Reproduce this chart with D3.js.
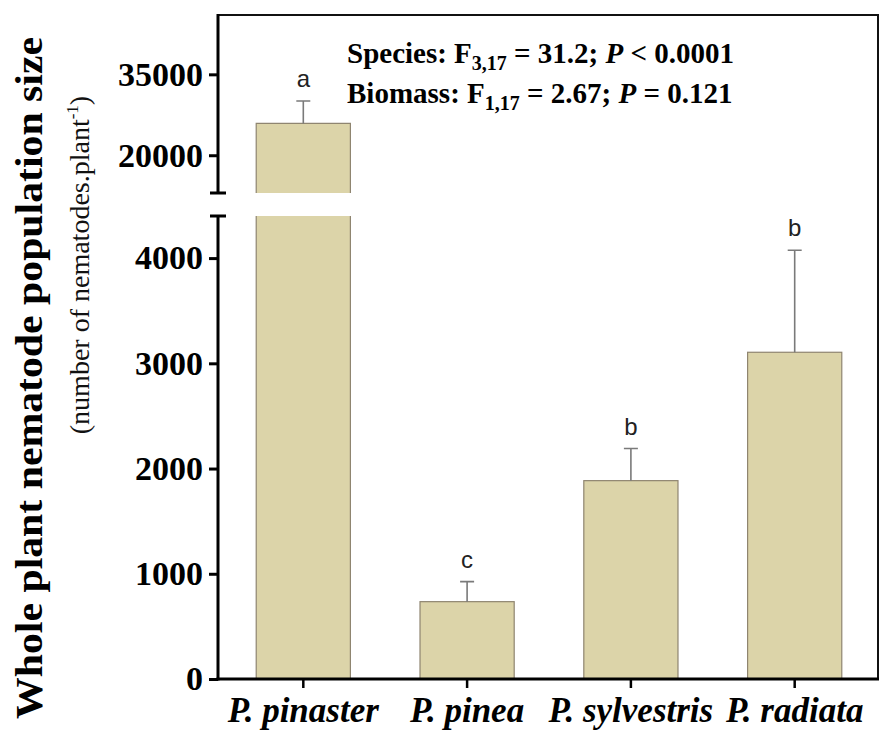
<!DOCTYPE html>
<html>
<head>
<meta charset="utf-8">
<script src="https://cdn.jsdelivr.net/npm/d3@7"></script>
<style>
  html, body { margin: 0; padding: 0; background: #fff; }
  svg { display: block; }
</style>
</head>
<body>
<svg id="chart" width="884" height="742"></svg>
<script>
// Pine species and mean nematode counts per plant (± SE)
const species = ["P. pinaster", "P. pinea", "P. sylvestris", "P. radiata"];
const means = [25900, 735, 1885, 3105];
const errors = [4150, 190, 305, 970];
const letters = ["a", "c", "b", "b"];

// Broken y axis: lower and upper segments
const lowerTicks = [0, 1000, 2000, 3000, 4000];
const upperTicks = [20000, 35000];
const lowerDomain = [0, 4400];
const upperDomain = [13000, 46000];

const svg = d3.select("#chart");
const serif = "'Liberation Serif', 'DejaVu Serif', serif";
const sans = "'Liberation Sans', Arial, sans-serif";

const left = 218, right = 878;
const plotTop = 15, baseY = 679;
const lowerTop = 216, upperBottom = 193;

const x = d3.scaleBand().domain(species).range([221, 877]).paddingInner(0.425).paddingOuter(0.215);
const yLow = d3.scaleLinear().domain(lowerDomain).range([baseY, lowerTop]);
const yUp = d3.scaleLinear().domain(upperDomain).range([upperBottom, plotTop]);

const barFill = "#dcd4a9", barStroke = "#8f8570";

// bars: values beyond the lower segment continue into the upper one
const data = species.map((s, i) => ({ s, m: means[i], e: errors[i], l: letters[i] }));
const yTop = v => v > lowerDomain[1] ? yUp(v) : yLow(v);

const bars = svg.append("g");
data.forEach(d => {
  const x0 = x(d.s), w = x.bandwidth();
  if (d.m > lowerDomain[1]) {
    bars.append("rect").attr("x", x0).attr("y", lowerTop).attr("width", w)
      .attr("height", baseY - lowerTop).attr("fill", barFill);
    bars.append("rect").attr("x", x0).attr("y", yUp(d.m)).attr("width", w)
      .attr("height", upperBottom - yUp(d.m)).attr("fill", barFill);
    bars.append("path")
      .attr("d", `M${x0},${baseY}V${lowerTop}M${x0 + w},${baseY}V${lowerTop}` +
                 `M${x0},${upperBottom}V${yUp(d.m)}H${x0 + w}V${upperBottom}`)
      .attr("fill", "none").attr("stroke", barStroke).attr("stroke-width", 1.2);
  } else {
    bars.append("rect").attr("x", x0).attr("y", yLow(d.m)).attr("width", w)
      .attr("height", baseY - yLow(d.m)).attr("fill", barFill)
      .attr("stroke", barStroke).attr("stroke-width", 1.2);
  }
  // upward error bar
  const cx = x0 + w / 2;
  const y1 = yTop(d.m), y2 = yTop(d.m + d.e);
  bars.append("path")
    .attr("d", `M${cx},${y1}V${y2}M${cx - 7},${y2}H${cx + 7}`)
    .attr("fill", "none").attr("stroke", "#7a7a7a").attr("stroke-width", 1.6);
  // significance letters
  svg.append("text").attr("x", cx).attr("y", y2 - 14)
    .attr("text-anchor", "middle").attr("font-family", sans).attr("font-size", 24)
    .attr("fill", "#222").text(d.l);
});

// frame around the plot
svg.append("path")
  .attr("d", `M${left},${plotTop}H${right}V${baseY}`)
  .attr("fill", "none").attr("stroke", "#111").attr("stroke-width", 2);

// y axes (two segments)
function styleAxis(g) {
  g.select(".domain").remove();
  g.selectAll(".tick line").attr("stroke", "#000").attr("stroke-width", 3);
  g.selectAll(".tick text").attr("font-family", serif).attr("font-weight", "bold")
    .attr("font-size", 34).attr("fill", "#000");
}
svg.append("g").attr("transform", `translate(${left},0)`)
  .call(d3.axisLeft(yLow).tickValues(lowerTicks).tickSize(9).tickPadding(6).tickFormat(d3.format("d")))
  .call(styleAxis);
svg.append("g").attr("transform", `translate(${left},0)`)
  .call(d3.axisLeft(yUp).tickValues(upperTicks).tickSize(9).tickPadding(6).tickFormat(d3.format("d")))
  .call(styleAxis);

svg.append("path")
  .attr("d", `M${left},${baseY + 1.5}V${lowerTop}M${left - 8},${lowerTop}H${left + 8}` +
             `M${left},${plotTop - 1}V${upperBottom}M${left - 8},${upperBottom}H${left + 8}`)
  .attr("fill", "none").attr("stroke", "#000").attr("stroke-width", 3);

// x axis
const xAxis = svg.append("g").attr("transform", `translate(0,${baseY})`)
  .call(d3.axisBottom(x).tickSize(9).tickPadding(9));
xAxis.select(".domain").attr("stroke", "#000").attr("stroke-width", 3)
  .attr("d", `M${left - 1.5},0H${right + 1}`);
xAxis.selectAll(".tick line").attr("stroke", "#000").attr("stroke-width", 2.5);
xAxis.selectAll(".tick text").attr("font-family", serif).attr("font-weight", "bold")
  .attr("font-style", "italic").attr("font-size", 35).attr("fill", "#000")
  .attr("dy", "0.71em");

// y axis titles
svg.append("text")
  .attr("transform", "translate(42,378) rotate(-90)")
  .attr("text-anchor", "middle").attr("font-family", serif).attr("font-weight", "bold")
  .attr("font-size", 38).attr("fill", "#000")
  .attr("textLength", 682).attr("lengthAdjust", "spacingAndGlyphs")
  .text("Whole plant nematode population size");
const sub = svg.append("text")
  .attr("transform", "translate(89,265) rotate(-90)")
  .attr("text-anchor", "middle")
  .attr("font-family", "'Times New Roman', 'Liberation Serif', Times, serif")
  .attr("font-size", 28).attr("fill", "#111");
sub.append("tspan").text("(number of nematodes.plant");
sub.append("tspan").attr("font-size", 17).attr("dy", -11).text("-1");
sub.append("tspan").attr("dy", 11).text(")");

// ANOVA summary
function statLine(y, parts) {
  const t = svg.append("text").attr("x", 347).attr("y", y)
    .attr("font-family", serif).attr("font-weight", "bold").attr("font-size", 29).attr("fill", "#000");
  parts.forEach(p => {
    const ts = t.append("tspan").text(p.t);
    if (p.i) ts.attr("font-style", "italic");
    if (p.sub) ts.attr("font-size", 20).attr("dy", 7);
    if (p.up) ts.attr("dy", -7);
  });
}
statLine(63, [{ t: "Species: F" }, { t: "3,17", sub: true }, { t: " = 31.2; ", up: true }, { t: "P", i: true }, { t: " < 0.0001" }]);
statLine(103, [{ t: "Biomass: F" }, { t: "1,17", sub: true }, { t: " = 2.67; ", up: true }, { t: "P", i: true }, { t: " = 0.121" }]);
</script>
</body>
</html>
